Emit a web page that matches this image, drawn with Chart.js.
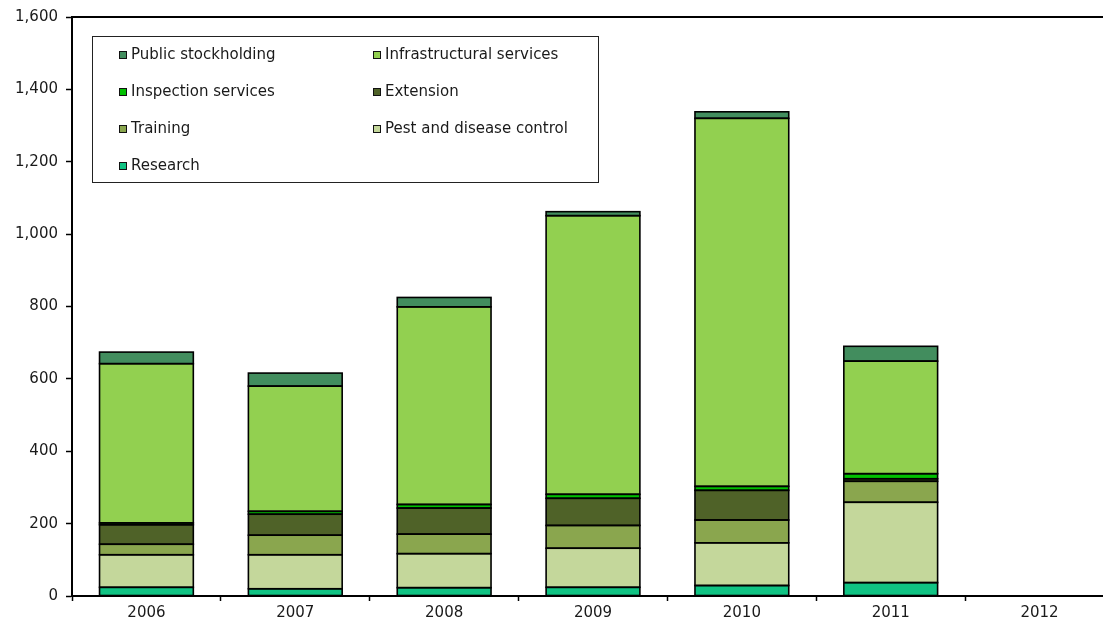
<!DOCTYPE html>
<html>
<head>
<meta charset="utf-8">
<title>Support by measure</title>
<script src="https://cdn.jsdelivr.net/npm/chart.js@4/dist/chart.umd.min.js"></script>
<style>
  html, body { margin: 0; padding: 0; background: #fff; overflow: hidden; }
  #chart { display: block; }
</style>
</head>
<body>
<canvas id="chart" width="1114" height="622"></canvas>
<script>
  // years on the x axis (2012 has no figures yet)
  const years = ["2006", "2007", "2008", "2009", "2010", "2011", "2012"];

  // one array per measure, bottom of the stack first
  const research       = [24, 20, 23, 24, 29, 37, null];
  const pestControl    = [90, 94, 94, 108, 118, 222, null];
  const training       = [29, 54, 54, 63, 63, 58, null];
  const extension      = [54, 58, 72, 75, 82, 7, null];
  const inspection     = [5, 8, 10, 11, 11, 14, null];
  const infrastructure = [440, 346, 546, 770, 1017, 311, null];
  const stockholding   = [32, 36, 26, 11, 18, 41, null];

  const yMin = 0;
  const yMax = 1600;
  const yStep = 200;

  const FONT = "'DejaVu Sans', Verdana, sans-serif";
  const TEXT = "#1a1a1a";

  function serie(label, data, color) {
    return {
      label: label,
      data: data,
      backgroundColor: color,
      borderWidth: 0,
      inflateAmount: 0
    };
  }

  const datasets = [
    serie("Research", research, "#10c383"),
    serie("Pest and disease control", pestControl, "#c4d79b"),
    serie("Training", training, "#8aa64e"),
    serie("Extension", extension, "#4f6228"),
    serie("Inspection services", inspection, "#00c000"),
    serie("Infrastructural services", infrastructure, "#92d050"),
    serie("Public stockholding", stockholding, "#428d5e")
  ];

  // black outline on every stacked segment, centred on its edges
  const segmentOutline = {
    id: "segmentOutline",
    afterDatasetsDraw(chart) {
      const ctx = chart.ctx;
      ctx.save();
      ctx.strokeStyle = "#000";
      ctx.lineWidth = 1.6;
      chart.data.datasets.forEach((ds, i) => {
        chart.getDatasetMeta(i).data.forEach((bar, j) => {
          if (ds.data[j] == null) return;
          const half = bar.width / 2;
          const top = Math.min(bar.y, bar.base);
          const h = Math.abs(bar.base - bar.y);
          ctx.strokeRect(bar.x - half, top, bar.width, h);
        });
      });
      ctx.restore();
    }
  };

  // top edge of the plot frame
  const frame = {
    id: "frame",
    afterDraw(chart) {
      const { ctx, chartArea } = chart;
      ctx.save();
      ctx.strokeStyle = "#000";
      ctx.lineWidth = 2;
      ctx.beginPath();
      ctx.moveTo(chartArea.left, chartArea.top);
      ctx.lineTo(chartArea.right, chartArea.top);
      ctx.stroke();
      ctx.restore();
    }
  };

  // boxed two-column legend, top series first
  const boxLegend = {
    id: "boxLegend",
    afterDraw(chart) {
      const ctx = chart.ctx;
      const items = chart.data.datasets.slice().reverse();
      const box = { x: 92, y: 36, w: 506, h: 146 };
      const cols = [119, 373];
      const rowTop = 55;
      const rowGap = 37;

      ctx.save();
      ctx.fillStyle = "#fff";
      ctx.fillRect(box.x, box.y, box.w, box.h);
      ctx.strokeStyle = "#222";
      ctx.lineWidth = 1;
      ctx.strokeRect(box.x + 0.5, box.y + 0.5, box.w, box.h);

      ctx.font = "15px " + FONT;
      ctx.textBaseline = "middle";
      ctx.textAlign = "left";
      items.forEach((ds, i) => {
        const x = cols[i % 2];
        const y = rowTop + Math.floor(i / 2) * rowGap;
        ctx.fillStyle = ds.backgroundColor;
        ctx.fillRect(x, y - 4, 8, 8);
        ctx.strokeStyle = "#111";
        ctx.strokeRect(x + 0.5, y - 3.5, 7, 7);
        ctx.fillStyle = TEXT;
        ctx.fillText(ds.label, x + 12, y);
      });
      ctx.restore();
    }
  };

  new Chart(document.getElementById("chart"), {
    type: "bar",
    data: { labels: years, datasets: datasets },
    options: {
      responsive: false,
      animation: false,
      layout: { padding: { top: 17, right: 0, left: 0, bottom: 0 } },
      plugins: {
        legend: { display: false },
        tooltip: { enabled: false }
      },
      datasets: {
        bar: { categoryPercentage: 1, barPercentage: 0.63 }
      },
      scales: {
        x: {
          stacked: true,
          offset: true,
          grid: {
            offset: true,
            drawOnChartArea: false,
            tickLength: 5,
            tickColor: "#000",
            tickWidth: 1.5
          },
          border: { color: "#000", width: 2 },
          ticks: {
            color: TEXT,
            font: { family: FONT, size: 15 },
            padding: 3,
            maxRotation: 0
          },
          afterFit(scale) { scale.height = 26; }
        },
        y: {
          stacked: true,
          min: yMin,
          max: yMax,
          grid: {
            drawOnChartArea: false,
            tickLength: 6,
            tickColor: "#000",
            tickWidth: 1.5
          },
          border: { color: "#000", width: 2 },
          ticks: {
            stepSize: yStep,
            color: TEXT,
            font: { family: FONT, size: 15 },
            padding: 8
          },
          afterFit(scale) { scale.width = 72; }
        }
      }
    },
    plugins: [segmentOutline, frame, boxLegend]
  });
</script>
</body>
</html>
